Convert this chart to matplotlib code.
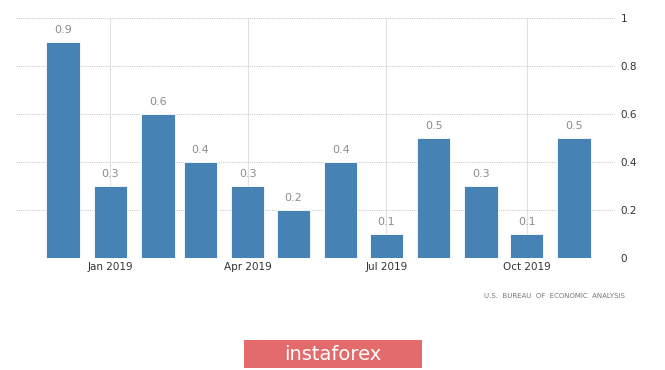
import matplotlib.pyplot as plt
import matplotlib.dates as mdates
from matplotlib.patches import FancyBboxPatch
import datetime as dt

# mesicni zmeny (%), Dec 2018 - Nov 2019
months = ['2018-12', '2019-01', '2019-02', '2019-03', '2019-04', '2019-05',
          '2019-06', '2019-07', '2019-08', '2019-09', '2019-10', '2019-11']
values = [0.9, 0.3, 0.6, 0.4, 0.3, 0.2, 0.4, 0.1, 0.5, 0.3, 0.1, 0.5]
tick_months = ['2019-01', '2019-04', '2019-07', '2019-10']
y_ticks = [0, 0.2, 0.4, 0.6, 0.8, 1]
y_labels = ['0', '0.2', '0.4', '0.6', '0.8', '1']
source = 'U.S.  BUREAU  OF  ECONOMIC  ANALYSIS'
brand = 'instaforex'

dates = [dt.datetime.strptime(m, '%Y-%m') for m in months]
tdates = [dt.datetime.strptime(m, '%Y-%m') for m in tick_months]

fig = plt.figure(figsize=(6.65, 3.7), dpi=100)
ax = fig.add_axes([16 / 665, 112 / 370, 599 / 665, 240 / 370])

ax.bar(dates, values, width=22, color='#4682b4', edgecolor='white', linewidth=0.6, zorder=3)
for d, v in zip(dates, values):
    ax.annotate(f'{v:g}', (mdates.date2num(d), v), xytext=(0, 5), textcoords='offset points',
                ha='center', va='bottom', fontsize=8, color='#8c8c8c')

ax.set_xlim(mdates.date2num(dt.datetime(2018, 10, 31)), mdates.date2num(dt.datetime(2019, 11, 28)))
ax.set_ylim(0, 1)
ax.set_xticks(tdates)
ax.xaxis.set_major_formatter(mdates.DateFormatter('%b %Y'))
ax.set_yticks(y_ticks)
ax.set_yticklabels(y_labels)
ax.yaxis.tick_right()
ax.tick_params(axis='both', length=0, labelsize=7.5, colors='#333333')
ax.tick_params(axis='y', pad=4)
ax.tick_params(axis='x', pad=3)

ax.grid(axis='y', color='#cccccc', linestyle=(0, (1, 1)), linewidth=0.8, zorder=0)
ax.grid(axis='x', color='#e0e0e0', linestyle='-', linewidth=0.8, zorder=0)
for s in ax.spines.values():
    s.set_visible(False)

fig.text(625 / 665, 1 - 296 / 370, source, ha='right', va='center', fontsize=5, color='#777777')

btn = FancyBboxPatch((244 / 665, 1 - 368 / 370), 178 / 665, 28 / 370,
                     boxstyle='square,pad=0', transform=fig.transFigure,
                     facecolor='#e36b6b', edgecolor='none')
fig.patches.append(btn)
fig.text(333 / 665, 1 - 354 / 370, brand, ha='center', va='center', fontsize=14, color='white')

fig.savefig('out.png', dpi=100)
